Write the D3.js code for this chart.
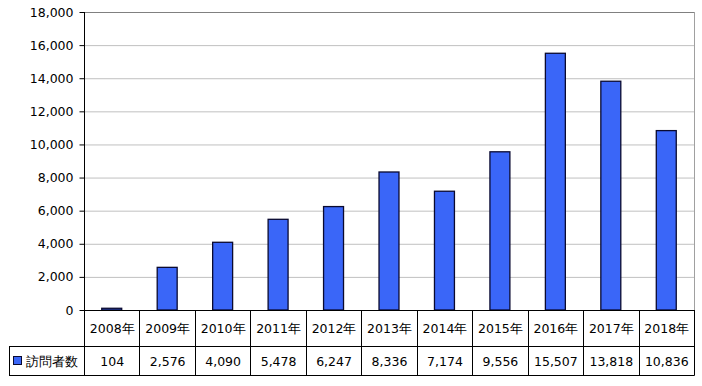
<!DOCTYPE html>
<html>
<head>
<meta charset="utf-8">
<script src="https://d3js.org/d3.v7.min.js"></script>
<style>
  body { margin: 0; background: #fff; }
  text { font-family: "DejaVu Sans", Verdana, sans-serif; font-size: 12.5px; fill: #000; }
</style>
</head>
<body>
<script>
// data
var years = ["2008年", "2009年", "2010年", "2011年", "2012年", "2013年", "2014年", "2015年", "2016年", "2017年", "2018年"];
var visitors = [104, 2576, 4090, 5478, 6247, 8336, 7174, 9556, 15507, 13818, 10836];
var yTicks = [0, 2000, 4000, 6000, 8000, 10000, 12000, 14000, 16000, 18000];
var seriesName = "訪問者数";

var width = 702, height = 386;
var plotLeft = 84, plotRight = 694, plotTop = 12, plotBottom = 310;
var headH = 36, rowH = 29, tableLeft = 9;
var rowMid = plotBottom + headH + rowH / 2;

var svg = d3.select("body").append("svg")
    .attr("width", width)
    .attr("height", height);

var x = d3.scaleBand()
    .domain(years)
    .range([plotLeft, plotRight])
    .paddingInner(0.64)
    .paddingOuter(0.32);

var xCell = d3.scaleBand()
    .domain(years)
    .range([plotLeft, plotRight]);

var y = d3.scaleLinear()
    .domain([0, 18000])
    .range([plotBottom, plotTop]);

// gridlines
svg.append("g")
  .selectAll("line")
  .data(yTicks.slice(1))
  .enter().append("line")
    .attr("x1", plotLeft).attr("x2", plotRight)
    .attr("y1", d => y(d) + 0.5).attr("y2", d => y(d) + 0.5)
    .attr("stroke", d => d == 18000 ? "#808080" : "#c0c0c0");

// right border
svg.append("line")
    .attr("x1", plotRight + 0.5).attr("x2", plotRight + 0.5)
    .attr("y1", plotTop).attr("y2", plotBottom)
    .attr("stroke", "#a0a0a0");

// bars
svg.append("g")
  .selectAll("rect")
  .data(visitors)
  .enter().append("rect")
    .attr("x", (d, i) => x(years[i]))
    .attr("y", d => y(d))
    .attr("width", x.bandwidth())
    .attr("height", d => plotBottom - y(d))
    .attr("fill", "#3a66f8")
    .attr("stroke", "#0a0a30")
    .attr("stroke-width", 1.3);

// y axis
var yAxis = d3.axisLeft(y)
    .tickValues(yTicks)
    .tickFormat(d3.format(","))
    .tickSize(5)
    .tickPadding(6);

var yg = svg.append("g")
    .attr("transform", "translate(" + (plotLeft + 0.5) + ",0)")
    .call(yAxis);
yg.select(".domain").remove();
yg.selectAll(".tick line").attr("stroke", "#000");
yg.append("line")
    .attr("y1", plotTop).attr("y2", plotBottom)
    .attr("stroke", "#000");
yg.selectAll(".tick text")
    .style("font-family", "DejaVu Sans, Verdana, sans-serif")
    .style("font-size", "12.5px")
    .attr("fill", "#000");

// data table
var table = svg.append("g");

// horizontal lines
table.append("line")
    .attr("x1", plotLeft).attr("x2", plotRight + 0.5)
    .attr("y1", plotBottom + 0.5).attr("y2", plotBottom + 0.5)
    .attr("stroke", "#000");
table.append("line")
    .attr("x1", tableLeft).attr("x2", plotRight + 0.5)
    .attr("y1", plotBottom + headH + 0.5).attr("y2", plotBottom + headH + 0.5)
    .attr("stroke", "#000");
table.append("line")
    .attr("x1", tableLeft).attr("x2", plotRight + 0.5)
    .attr("y1", plotBottom + headH + rowH + 0.5).attr("y2", plotBottom + headH + rowH + 0.5)
    .attr("stroke", "#000");

// vertical lines
var vx = years.map(d => xCell(d)).concat([plotRight]);
table.selectAll(".vline")
  .data(vx)
  .enter().append("line")
    .attr("class", "vline")
    .attr("x1", d => Math.round(d) + 0.5).attr("x2", d => Math.round(d) + 0.5)
    .attr("y1", plotBottom).attr("y2", plotBottom + headH + rowH + 0.5)
    .attr("stroke", "#000");
table.append("line")
    .attr("x1", tableLeft + 0.5).attr("x2", tableLeft + 0.5)
    .attr("y1", plotBottom + headH).attr("y2", plotBottom + headH + rowH + 0.5)
    .attr("stroke", "#000");

// header row
table.selectAll(".yr")
  .data(years)
  .enter().append("text")
    .attr("x", d => xCell(d) + xCell.bandwidth() / 2 + 0.5)
    .attr("y", plotBottom + headH / 2 + 1)
    .attr("dy", "0.35em")
    .attr("text-anchor", "middle")
    .text(d => d);

// values row
table.selectAll(".val")
  .data(visitors)
  .enter().append("text")
    .attr("x", (d, i) => xCell(years[i]) + xCell.bandwidth() / 2 + 0.5)
    .attr("y", rowMid + 1)
    .attr("dy", "0.35em")
    .attr("text-anchor", "middle")
    .text(d => d3.format(",")(d));

// legend key
table.append("rect")
    .attr("x", 13.5).attr("y", rowMid - 4)
    .attr("width", 8).attr("height", 8)
    .attr("fill", "#3a66f8")
    .attr("stroke", "#0a0a30");
table.append("text")
    .attr("x", 26)
    .attr("y", rowMid + 1)
    .attr("dy", "0.35em")
    .text(seriesName);
</script>
</body>
</html>
